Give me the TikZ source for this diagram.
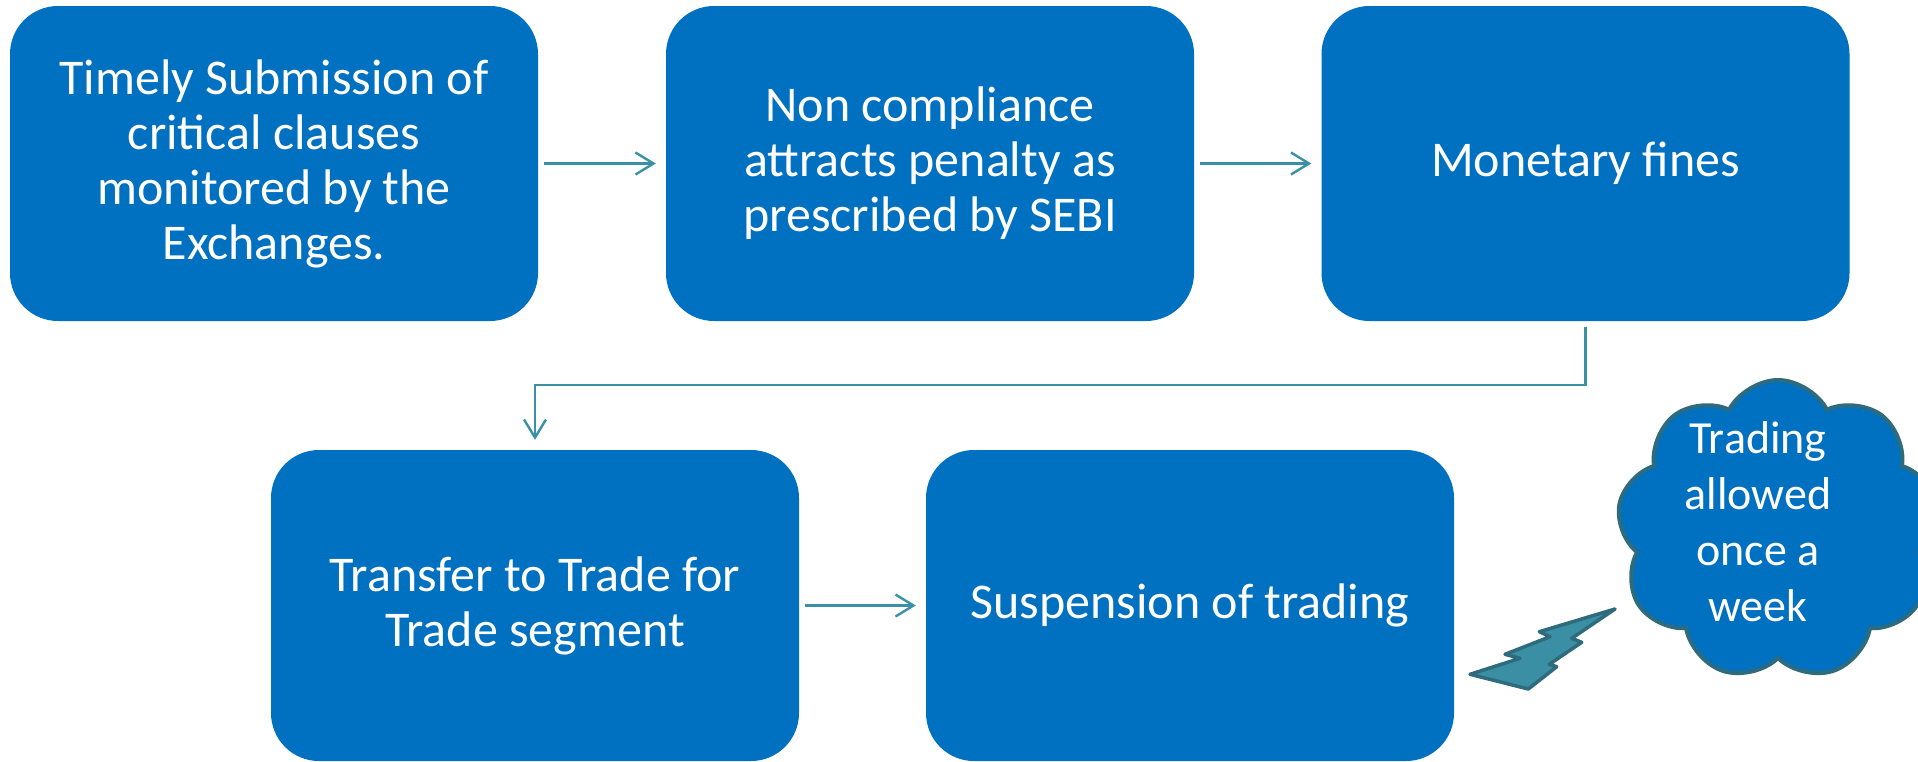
\documentclass[tikz,border=0pt]{standalone}
\usepackage{fontspec}
\setmainfont{Carlito}
\usetikzlibrary{arrows.meta,shapes.symbols}

\definecolor{boxblue}{RGB}{0,112,192}
\definecolor{flowteal}{RGB}{58,145,166}
\definecolor{edgeteal}{RGB}{46,107,125}
\definecolor{boltteal}{RGB}{58,143,164}

\tikzset{
  stepbox/.style={rectangle, rounded corners=48pt, fill=boxblue, draw=none,
    text=white, align=center, minimum width=528pt, inner sep=0pt,
    font=\fontsize{50pt}{55pt}\selectfont},
  topbox/.style={stepbox, minimum height=315pt},
  lowbox/.style={stepbox, minimum height=311pt},
  flow/.style={draw=flowteal, line width=2.4pt,
    -{Straight Barb[length=18pt,width=22pt,line width=2.4pt]},
    shorten <=6pt, shorten >=10pt},
  puffcloud/.style={cloud, cloud puffs=9, cloud puff arc=125, cloud ignores aspect,
    fill=boxblue, draw=edgeteal, line width=4pt, inner sep=0pt,
    minimum width=322pt, minimum height=300pt},
  cloudtext/.style={text=white, align=center, inner sep=0pt,
    font=\fontsize{46pt}{56pt}\selectfont},
  bolt/.style={fill=boltteal, draw=edgeteal, line width=3.5pt, line join=round}
}

\begin{document}
\begin{tikzpicture}[x=1pt, y=-1pt]
  \path[use as bounding box, fill=white] (0,0) rectangle (1918,761);

  % process steps, upper row
  \node[topbox] (submit) at (274,163.5) {Timely Submission of\\critical clauses\\monitored by the\\Exchanges.};
  \node[topbox] (penalty) at (930,163.5) {Non compliance\\attracts penalty as\\prescribed by SEBI};
  \node[topbox] (fines) at (1585.5,163.5) {Monetary fines};

  % process steps, lower row
  \node[lowbox] (transfer) at (535,605.5) {Transfer to Trade for\\Trade segment};
  \node[lowbox] (suspend) at (1190,605.5) {Suspension of trading};

  % connectors
  \draw[flow] (submit) -- (penalty);
  \draw[flow] (penalty) -- (fines);
  \draw[flow] (fines.south) -- ++(0pt,-64pt) -| (transfer.north);
  \draw[flow] (transfer) -- (suspend);

  % callout cloud
  \node[puffcloud, shape border rotate=10] (note) at (1778,530) {};
  \node[cloudtext] (notetext) at (1758,522) {Trading\\allowed\\once a\\week};

  % lightning bolt between the suspension box and the cloud
  \draw[bolt] (1615,609) -- (1539.3,631.7) -- (1550,636.7) -- (1505,654.3)
    -- (1520,658.3) -- (1470,674.3) -- (1528.3,689) -- (1556.7,666.7)
    -- (1549.3,664.3) -- (1581.7,642.3) -- (1571.7,638.3) -- cycle;
\end{tikzpicture}
\end{document}
